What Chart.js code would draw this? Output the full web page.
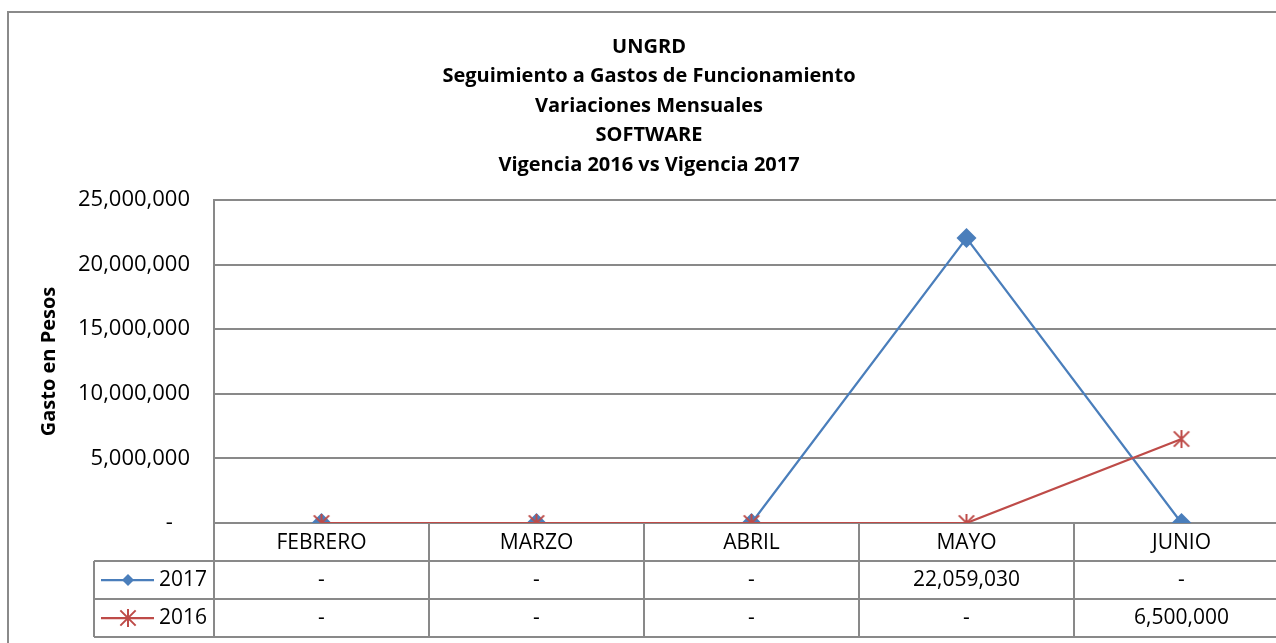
<!DOCTYPE html>
<html>
<head>
<meta charset="utf-8">
<script src="https://cdn.jsdelivr.net/npm/chart.js@4.4.1/dist/chart.umd.min.js"></script>
<style>
    html, body { margin: 0; padding: 0; background: #fff; overflow: hidden; }
    #frame { position: absolute; left: 7px; top: 11px; width: 1290px; height: 650px; border: 2px solid #8a8a8a; }
    canvas { display: block; }
</style>
</head>
<body>
<div id="frame"><canvas id="gastoChart" width="1280" height="640"></canvas></div>
<script>
const months = ['FEBRERO', 'MARZO', 'ABRIL', 'MAYO', 'JUNIO'];
const gasto2017 = [0, 0, 0, 22059030, 0];
const gasto2016 = [0, 0, 0, 0, 6500000];
const yTicks = [0, 5000000, 10000000, 15000000, 20000000, 25000000];
const titleLines = [
    'UNGRD',
    'Seguimiento a Gastos de Funcionamiento',
    'Variaciones Mensuales',
    'SOFTWARE',
    'Vigencia 2016 vs Vigencia 2017'
];

const FONT = '"Open Sans", sans-serif';
const BLUE = '#4a7ebb';
const RED = '#be4b48';
const GRID = '#898989';

const formatPesos = (value) => value === 0 ? '-' : value.toLocaleString('en-US');

// asterisk marker like the Excel one: an X with a vertical stroke
function makeStar(size, color) {
    const c = document.createElement('canvas');
    c.width = c.height = size;
    const g = c.getContext('2d');
    const m = size / 2, r = size / 2 - 1, d = r * 0.85;
    g.strokeStyle = color;
    g.lineWidth = 2;
    g.beginPath();
    g.moveTo(m - d, m - d); g.lineTo(m + d, m + d);
    g.moveTo(m + d, m - d); g.lineTo(m - d, m + d);
    g.moveTo(m, m - r); g.lineTo(m, m + r);
    g.stroke();
    return c;
}
const starMark = makeStar(20, RED);

const series = [
    { label: '2017', data: gasto2017, color: BLUE, marker: 'rectRot', radius: 10 },
    { label: '2016', data: gasto2016, color: RED, marker: starMark, radius: 7 }
];

// data table under the plot, drawn from the same arrays
const dataTablePlugin = {
    id: 'dataTable',
    afterDraw(chart) {
        const { ctx, chartArea } = chart;
        const x = chart.scales.x;
        const half = (x.getPixelForValue(1) - x.getPixelForValue(0)) / 2;
        const rowH = 38;
        const top = chartArea.bottom;
        const legendLeft = chartArea.left - 120;

        ctx.save();
        ctx.strokeStyle = GRID;
        ctx.lineWidth = 2;
        ctx.beginPath();
        for (let r = 1; r <= series.length + 1; r++) {
            ctx.moveTo(legendLeft, top + r * rowH);
            ctx.lineTo(chartArea.right, top + r * rowH);
        }
        ctx.moveTo(legendLeft, top + rowH);
        ctx.lineTo(legendLeft, top + (series.length + 1) * rowH);
        for (let i = 0; i <= months.length; i++) {
            const xx = x.getPixelForValue(0) - half + i * 2 * half;
            ctx.moveTo(xx, top);
            ctx.lineTo(xx, top + (series.length + 1) * rowH);
        }
        ctx.stroke();

        ctx.fillStyle = '#000';
        ctx.font = '21px ' + FONT;
        ctx.textAlign = 'center';
        ctx.textBaseline = 'middle';
        months.forEach((m, i) => {
            ctx.fillText(m, x.getPixelForValue(i), top + rowH / 2 + 1);
        });

        series.forEach((s, r) => {
            const cy = top + (r + 1.5) * rowH;
            s.data.forEach((v, i) => {
                ctx.fillText(formatPesos(v), x.getPixelForValue(i), cy);
            });

            // legend key
            ctx.strokeStyle = s.color;
            ctx.lineWidth = 2.25;
            ctx.beginPath();
            ctx.moveTo(legendLeft + 7, cy);
            ctx.lineTo(legendLeft + 60, cy);
            ctx.stroke();
            if (s.marker === 'rectRot') {
                ctx.fillStyle = s.color;
                ctx.beginPath();
                ctx.moveTo(legendLeft + 34, cy - 6);
                ctx.lineTo(legendLeft + 40, cy);
                ctx.lineTo(legendLeft + 34, cy + 6);
                ctx.lineTo(legendLeft + 28, cy);
                ctx.closePath();
                ctx.fill();
            } else {
                ctx.drawImage(s.marker, legendLeft + 34 - s.marker.width / 2, cy - s.marker.height / 2);
            }
            ctx.fillStyle = '#000';
            ctx.textAlign = 'left';
            ctx.fillText(s.label, legendLeft + 65, cy);
            ctx.textAlign = 'center';
        });
        ctx.restore();
    }
};

const ctx = document.getElementById('gastoChart').getContext('2d');
new Chart(ctx, {
    type: 'line',
    data: {
        labels: months,
        datasets: series.map((s, i) => ({
            label: s.label,
            data: s.data,
            borderColor: s.color,
            backgroundColor: s.color,
            borderWidth: 2.25,
            pointStyle: s.marker,
            pointRadius: s.radius,
            pointHoverRadius: s.radius,
            pointBorderWidth: 0,
            tension: 0,
            order: series.length - i
        }))
    },
    options: {
        responsive: false,
        animation: false,
        events: [],
        layout: {
            autoPadding: false,
            padding: { left: 0, right: 0, top: 0, bottom: 130 }
        },
        plugins: {
            legend: { display: false },
            tooltip: { enabled: false },
            title: {
                display: true,
                text: titleLines,
                color: '#000',
                font: { family: FONT, size: 20, weight: 'bold', lineHeight: 1.48 },
                padding: { top: 19, bottom: 20 }
            }
        },
        scales: {
            x: {
                display: false,
                offset: true
            },
            y: {
                min: 0,
                max: 25000000,
                afterFit: (scale) => { scale.width = 205; },
                afterBuildTicks: (scale) => { scale.ticks = yTicks.map(v => ({ value: v })); },
                ticks: {
                    color: '#000',
                    padding: 24,
                    font: { family: FONT, size: 22 },
                    callback: (v) => v === 0 ? '-   ' : formatPesos(v)
                },
                grid: { color: GRID, lineWidth: 2, drawTicks: false },
                border: { color: GRID, width: 2 },
                title: {
                    display: true,
                    text: 'Gasto en Pesos',
                    color: '#000',
                    font: { family: FONT, size: 20, weight: 'bold' },
                    padding: { top: 28, bottom: 0 }
                }
            }
        }
    },
    plugins: [dataTablePlugin]
});
</script>
</body>
</html>
